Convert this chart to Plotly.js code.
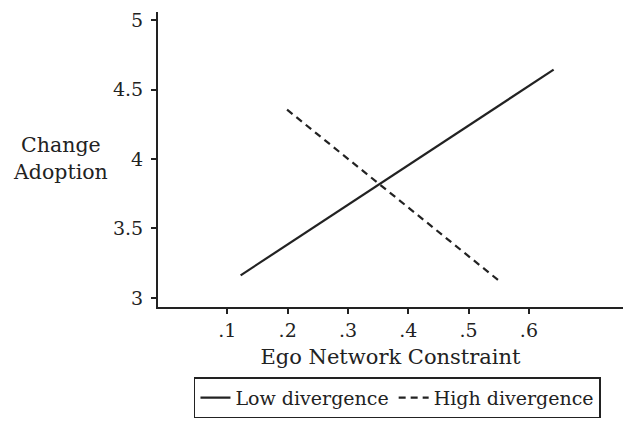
<!DOCTYPE html>
<html>
<head>
<meta charset="utf-8">
<script src="https://cdn.plot.ly/plotly-3.0.1.min.js"></script>
<style>html,body{margin:0;padding:0;background:#fff;}#chart{width:624px;height:423px;}</style>
</head>
<body>
<div id="chart"></div>
<script>
var seriesNames = ["Low divergence", "High divergence"];
var lowX = [0.122, 0.641];
var lowY = [3.163, 4.643];
var highX = [0.199, 0.555];
var highY = [4.355, 3.108];
var xTickVals = [0.1, 0.2, 0.3, 0.4, 0.5, 0.6];
var xTickText = [".1", ".2", ".3", ".4", ".5", ".6"];
var yTickVals = [3, 3.5, 4, 4.5, 5];
var yTickText = ["3", "3.5", "4", "4.5", "5"];

var font = "DejaVu Serif";
var ink = "#222";

var traces = [
  {x: lowX, y: lowY, mode: "lines", name: seriesNames[0], line: {color: ink, width: 2.2}},
  {x: highX, y: highY, mode: "lines", name: seriesNames[1], line: {color: ink, width: 2.2, dash: "7px,5px"}}
];

var layout = {
  width: 624, height: 423,
  margin: {l: 158, r: 1, t: 12, b: 116},
  paper_bgcolor: "#fff", plot_bgcolor: "#fff",
  font: {family: font, color: ink, size: 19},
  showlegend: true,
  legend: {orientation: "h", x: 0.515, xanchor: "center", y: -0.238, yanchor: "top",
           bordercolor: ink, borderwidth: 1.5, font: {size: 19, family: font, color: ink},
           itemwidth: 30, tracegroupgap: 0},
  xaxis: {range: [-0.015, 0.756], tickvals: xTickVals, ticktext: xTickText,
          showline: true, linecolor: ink, linewidth: 2, ticks: "outside", ticklen: 5, tickwidth: 2,
          tickcolor: ink, showgrid: false, zeroline: false, tickfont: {size: 19},
          title: {text: "Ego Network Constraint", font: {size: 21}, standoff: 10}},
  yaxis: {range: [2.935, 5.058], tickvals: yTickVals, ticktext: yTickText,
          showline: true, linecolor: ink, linewidth: 2, ticks: "outside", ticklen: 5, tickwidth: 2,
          tickcolor: ink, showgrid: false, zeroline: false, tickfont: {size: 19}, ticklabelstandoff: 4},
  annotations: [{xref: "paper", yref: "paper", x: -0.21, y: 0.505, xanchor: "center", yanchor: "middle",
                 text: "Change<br>Adoption", showarrow: false, font: {size: 20.5, family: font, color: ink}}]
};

Plotly.newPlot("chart", traces, layout, {displayModeBar: false, staticPlot: true});
</script>
</body>
</html>
